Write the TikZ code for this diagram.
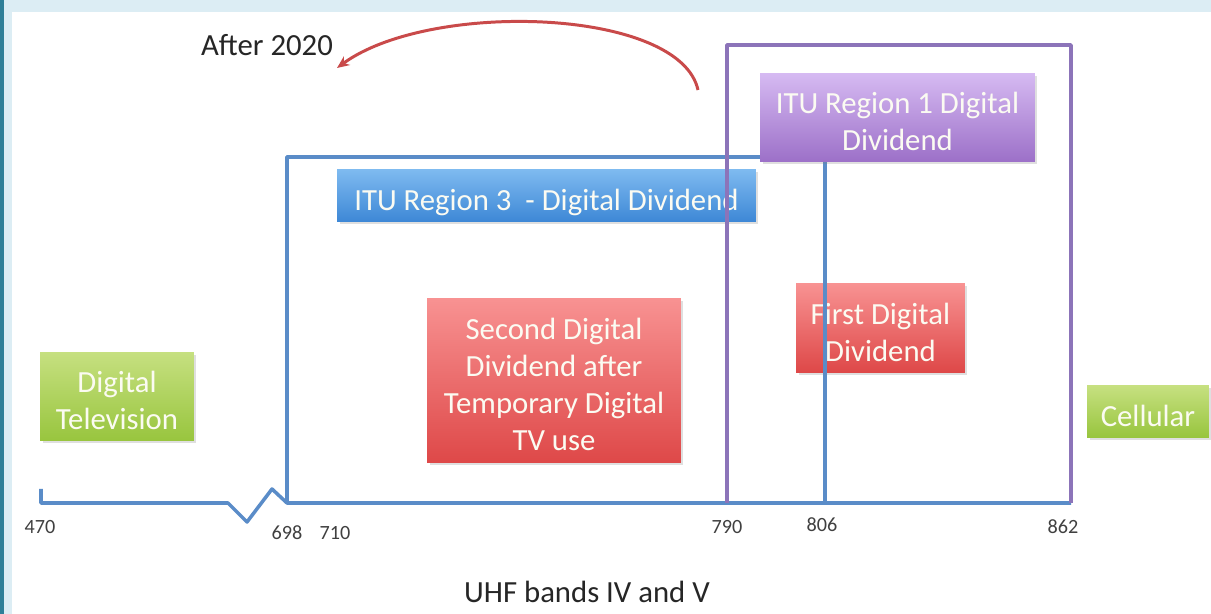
\documentclass[tikz,border=0pt]{standalone}
\usepackage{fontspec}
\setmainfont{Carlito}
\usepackage{tikz}
\usetikzlibrary{shadows, arrows.meta}

\definecolor{framebg}{HTML}{DCEDF4}
\definecolor{framedark}{HTML}{2F7F98}
\definecolor{bandblue}{HTML}{5A8CC8}
\definecolor{bandpurple}{HTML}{8C74B9}
\definecolor{arrowred}{HTML}{C94A4A}
\definecolor{boxtext}{HTML}{FBFBF2}
\definecolor{greentop}{HTML}{C6E080}
\definecolor{greenbot}{HTML}{98C53E}
\definecolor{redtop}{HTML}{F89292}
\definecolor{redbot}{HTML}{DE4848}
\definecolor{bluetop}{HTML}{7EBAF0}
\definecolor{bluebot}{HTML}{3E88D6}
\definecolor{purpletop}{HTML}{D6BAF2}
\definecolor{purplebot}{HTML}{9C70C8}

% box text, first line pushed down a little
\newcommand{\bandtext}[1]{\begin{tabular}{@{}c@{}}\rule{0pt}{23pt}#1\end{tabular}}

\begin{document}
\begin{tikzpicture}[x=0.02cm,y=-0.02cm,
                    box node/.style={draw=none,inner sep=0pt,
                      text=boxtext,font=\fontsize{17.5}{21}\selectfont,
                      drop shadow={opacity=0.25,shadow xshift=0.05cm,shadow yshift=-0.05cm}},
                    green box/.style={box node,top color=greentop,bottom color=greenbot},
                    red box/.style={box node,top color=redtop,bottom color=redbot},
                    blue box/.style={box node,top color=bluetop,bottom color=bluebot},
                    purple box/.style={box node,top color=purpletop,bottom color=purplebot},
                    tick label/.style={font=\fontsize{11.5}{13}\selectfont,text=black!75},
                    band line/.style={line width=2pt,line join=round}]

  % frame
  \fill[framebg] (0,0) rectangle (1211,614);
  \fill[framedark] (0,0) rectangle (4,614);
  \fill[white] (12,12) rectangle (1211,614);
  \useasboundingbox (0,0) rectangle (1211,614);

  % band edges on the axis
  \coordinate (f470top) at (41,489);
  \coordinate (f470) at (41,503);
  \coordinate (brk1) at (228,503);
  \coordinate (brk2) at (247,522);
  \coordinate (brk3) at (272,489);
  \coordinate (f698) at (287,503);
  \coordinate (f790) at (727,503);
  \coordinate (f806) at (825,503);
  \coordinate (f862) at (1071,503);
  \coordinate (r3nw) at (287,157);
  \coordinate (r3ne) at (825,157);
  \coordinate (r1nw) at (727,45);
  \coordinate (r1ne) at (1071,45);

  % boxes
  \node[green box,minimum width=3.08cm,minimum height=1.78cm] (tv) at (117,396.5) {\bandtext{Digital\\Television}};
  \node[green box,minimum width=2.44cm,minimum height=1.02cm] (cell) at (1148,411.5) {\bandtext{Cellular}};
  \node[red box,minimum width=5.08cm,minimum height=3.30cm] (second) at (554,380.5)
        {\bandtext{Second Digital\\Dividend after\\Temporary Digital\\TV use}};
  \node[red box,minimum width=3.38cm,minimum height=1.76cm] (first) at (880.5,328) {\bandtext{First Digital\\Dividend}};
  \node[blue box,minimum width=8.38cm,minimum height=0.94cm] (region3) at (546.5,195.5) {\bandtext{ITU Region 3\ \ - Digital Dividend}};

  % axis and region outlines
  \draw[band line,bandblue] (f470top) -- (f470) -- (brk1) -- (brk2) -- (brk3) -- (f698) -- (f862);
  \draw[band line,bandblue] (f698) -- (r3nw) -- (r3ne) -- (f806);
  \draw[band line,bandpurple] (f790) -- (r1nw) -- (r1ne) -- (f862);

  \node[purple box,minimum width=5.50cm,minimum height=1.78cm] (region1) at (897.5,117.5) {\bandtext{ITU Region 1 Digital\\Dividend}};

  % labels
  \node[tick label] (l470) at (40,527) {470};
  \node[tick label] (l698) at (287,533) {698};
  \node[tick label] (l710) at (335,533) {710};
  \node[tick label] (l790) at (727,527) {790};
  \node[tick label] (l806) at (822,525) {806};
  \node[tick label] (l862) at (1063,527) {862};

  \node[font=\fontsize{17.5}{21}\selectfont,text=black!85] (uhf) at (587,592) {UHF bands IV and V};
  \node[font=\fontsize{17.5}{21}\selectfont,text=black!85] (after) at (267,45) {After 2020};

  \coordinate (arrstart) at (698,90);
  \coordinate (arrend) at (337,68);
  \draw[arrowred,line width=1.7pt,-{Stealth[length=7pt,width=6pt]}]
    (arrstart) .. controls (680,8) and (430,0) .. (arrend);

\end{tikzpicture}
\end{document}
